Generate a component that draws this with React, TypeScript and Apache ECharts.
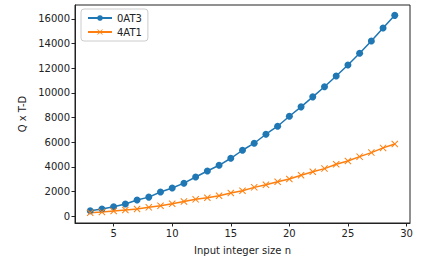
import React, { useEffect, useRef } from "react";
import * as echarts from "echarts";

const nValues = [3, 4, 5, 6, 7, 8, 9, 10, 11, 12, 13, 14, 15, 16, 17, 18, 19, 20, 21, 22, 23, 24, 25, 26, 27, 28, 29];
const seriesA = [430, 570, 760, 980, 1300, 1540, 1950, 2280, 2670, 3170, 3660, 4120, 4690, 5340, 5910, 6640, 7290, 8100, 8860, 9670, 10490, 11360, 12250, 13200, 14200, 15260, 16280];
const seriesB = [270, 330, 410, 490, 570, 710, 840, 1000, 1180, 1360, 1490, 1650, 1870, 2060, 2330, 2540, 2790, 3010, 3310, 3600, 3850, 4200, 4470, 4820, 5150, 5530, 5850];
const xTicks = [5, 10, 15, 20, 25, 30];
const yTicks = [0, 2000, 4000, 6000, 8000, 10000, 12000, 14000, 16000];
const nameA = "0AT3";
const nameB = "4AT1";

const FONT = "DejaVu Sans";
const X_SYMBOL = "path://M0,1 L1,0 L5,4 L9,0 L10,1 L6,5 L10,9 L9,10 L5,6 L1,10 L0,9 L4,5 Z";

export default function App() {
  const ref = useRef<HTMLDivElement>(null);
  useEffect(() => {
    if (!ref.current) return;
    const chart = echarts.init(ref.current, undefined, { renderer: "svg" });
    chart.setOption({
      animation: false,
      textStyle: { fontFamily: FONT },
      grid: {
        left: 75,
        right: 12,
        top: 5,
        bottom: 39,
        containLabel: false,
        show: true,
        borderColor: "#222",
        borderWidth: 1,
        backgroundColor: "#fff",
      },
      legend: {
        orient: "vertical",
        left: 81,
        top: 9,
        padding: [4, 6, 4, 6],
        itemGap: 4,
        itemWidth: 24,
        itemHeight: 7,
        backgroundColor: "rgba(255,255,255,0.8)",
        borderColor: "#ccc",
        borderWidth: 1,
        borderRadius: 3,
        textStyle: { fontFamily: FONT, fontSize: 10, color: "#222" },
        data: [nameA, nameB],
      },
      xAxis: {
        type: "value",
        min: 1.7,
        max: 30.3,
        name: "Input integer size n",
        nameLocation: "middle",
        nameGap: 22,
        nameTextStyle: { fontFamily: FONT, fontSize: 10, color: "#222" },
        axisLine: { show: true, onZero: false, lineStyle: { color: "#222" } },
        axisTick: { show: true, length: 3.5, customValues: xTicks, lineStyle: { color: "#222" } },
        axisLabel: {
          customValues: xTicks,
          formatter: (v: number) => String(v),
          fontFamily: FONT,
          fontSize: 10,
          color: "#222",
          margin: 5,
        },
        splitLine: { show: false },
      },
      yAxis: {
        type: "value",
        min: -560,
        max: 17120,
        name: "Q x T-D",
        nameLocation: "middle",
        nameGap: 43,
        nameTextStyle: { fontFamily: FONT, fontSize: 10, color: "#222" },
        axisLine: { show: true, onZero: false, lineStyle: { color: "#222" } },
        axisTick: { show: true, length: 3.5, customValues: yTicks, lineStyle: { color: "#222" } },
        axisLabel: {
          customValues: yTicks,
          formatter: (v: number) => String(v),
          fontFamily: FONT,
          fontSize: 10,
          color: "#222",
          margin: 5,
        },
        splitLine: { show: false },
      },
      series: [
        {
          name: nameA,
          type: "line",
          data: nValues.map((n, i) => [n, seriesA[i]]),
          symbol: "circle",
          symbolSize: 7,
          showAllSymbol: true,
          lineStyle: { color: "#1f77b4", width: 1.5 },
          itemStyle: { color: "#1f77b4" },
        },
        {
          name: nameB,
          type: "line",
          data: nValues.map((n, i) => [n, seriesB[i]]),
          symbol: X_SYMBOL,
          symbolSize: 7,
          showAllSymbol: true,
          lineStyle: { color: "#ff7f0e", width: 1.5 },
          itemStyle: { color: "#ff7f0e" },
        },
      ],
    });
    return () => chart.dispose();
  }, []);
  return <div ref={ref} style={{ width: 422, height: 262, position: "absolute", left: 0, top: 0 }} />;
}
